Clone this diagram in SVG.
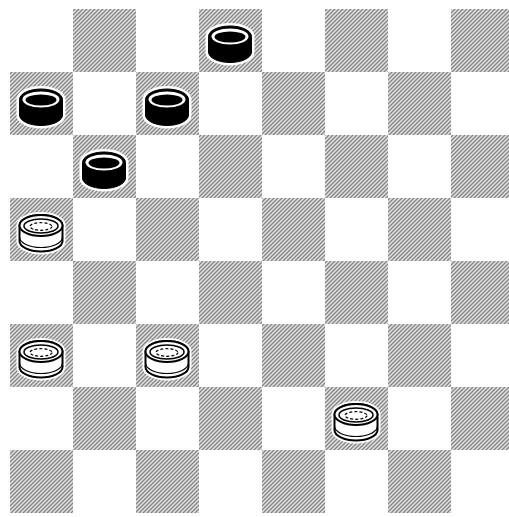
<svg xmlns="http://www.w3.org/2000/svg" width="509" height="517" viewBox="0 0 509 517">
<defs>
<pattern id="hatch" patternUnits="userSpaceOnUse" width="4" height="4">
<rect width="4" height="4" fill="#e2e2e2"/>
<path d="M-1,1 L1,-1 M0,4 L4,0 M3,5 L5,3" stroke="#858585" stroke-width="1.3"/>
</pattern>
<g id="bp">
<path d="M9.5,27.5 A21.5,10.5 0 0 1 52.5,27.5 L52.5,43 A21.5,10.5 0 0 1 9.5,43 Z" fill="#fff" stroke="#fff" stroke-width="6"/>
<path d="M9.5,27.5 A21.5,10.5 0 0 1 52.5,27.5 L52.5,43 A21.5,10.5 0 0 1 9.5,43 Z" fill="#000" stroke="#000" stroke-width="1"/>
<ellipse cx="31" cy="27.5" rx="18.5" ry="8" fill="#fff"/>
<ellipse cx="31" cy="28" rx="15.5" ry="5.5" fill="#000"/>
</g>
<g id="wp">
<path d="M9.5,27.5 A21.5,10.5 0 0 1 52.5,27.5 L52.5,43 A21.5,10.5 0 0 1 9.5,43 Z" fill="#fff" stroke="#fff" stroke-width="6"/>
<path d="M9.5,27.5 A21.5,10.5 0 0 1 52.5,27.5 L52.5,43 A21.5,10.5 0 0 1 9.5,43 Z" fill="#fff" stroke="#000" stroke-width="2"/>
<ellipse cx="31" cy="27.5" rx="21.5" ry="10.5" fill="#fff" stroke="#000" stroke-width="2"/>
<ellipse cx="31" cy="28" rx="17" ry="7" fill="none" stroke="#000" stroke-width="1.5"/>
<ellipse cx="31" cy="28.5" rx="11" ry="3.8" fill="none" stroke="#000" stroke-width="1.2" stroke-dasharray="3 2"/>
<path d="M9.5,39 A21.5,10.5 0 0 0 52.5,39" fill="none" stroke="#000" stroke-width="1.2"/>
</g>
</defs>
<rect width="509" height="517" fill="#fff"/>
<g id="board" fill="url(#hatch)">
<rect x="73" y="9" width="63" height="63"/><rect x="199" y="9" width="63" height="63"/><rect x="325" y="9" width="63" height="63"/><rect x="451" y="9" width="63" height="63"/>
<rect x="10" y="72" width="63" height="63"/><rect x="136" y="72" width="63" height="63"/><rect x="262" y="72" width="63" height="63"/><rect x="388" y="72" width="63" height="63"/>
<rect x="73" y="135" width="63" height="63"/><rect x="199" y="135" width="63" height="63"/><rect x="325" y="135" width="63" height="63"/><rect x="451" y="135" width="63" height="63"/>
<rect x="10" y="198" width="63" height="63"/><rect x="136" y="198" width="63" height="63"/><rect x="262" y="198" width="63" height="63"/><rect x="388" y="198" width="63" height="63"/>
<rect x="73" y="261" width="63" height="63"/><rect x="199" y="261" width="63" height="63"/><rect x="325" y="261" width="63" height="63"/><rect x="451" y="261" width="63" height="63"/>
<rect x="10" y="324" width="63" height="63"/><rect x="136" y="324" width="63" height="63"/><rect x="262" y="324" width="63" height="63"/><rect x="388" y="324" width="63" height="63"/>
<rect x="73" y="387" width="63" height="63"/><rect x="199" y="387" width="63" height="63"/><rect x="325" y="387" width="63" height="63"/><rect x="451" y="387" width="63" height="63"/>
<rect x="10" y="450" width="63" height="63"/><rect x="136" y="450" width="63" height="63"/><rect x="262" y="450" width="63" height="63"/><rect x="388" y="450" width="63" height="63"/>
</g>
<g id="black-pieces">
<use href="#bp" x="199" y="9"/>
<use href="#bp" x="10" y="72"/>
<use href="#bp" x="136" y="72"/>
<use href="#bp" x="73" y="135"/>
</g>
<g id="white-pieces">
<use href="#wp" x="10" y="198"/>
<use href="#wp" x="10" y="324"/>
<use href="#wp" x="136" y="324"/>
<use href="#wp" x="325" y="387"/>
</g>
</svg>
